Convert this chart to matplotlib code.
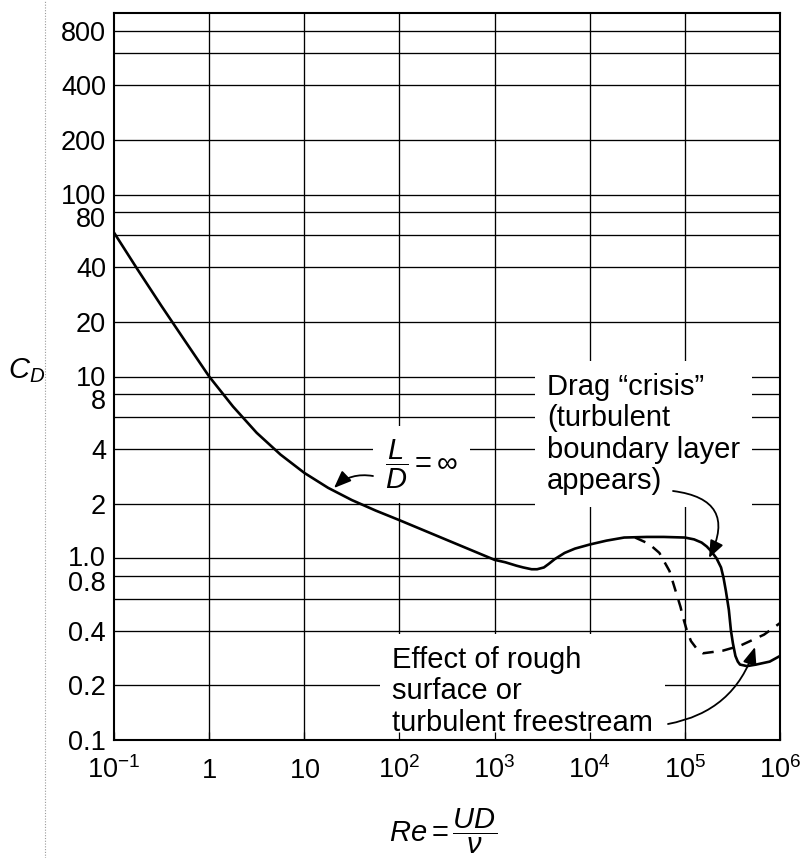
import matplotlib
matplotlib.use("Agg")
import matplotlib.pyplot as plt
from matplotlib.lines import Line2D
from matplotlib.ticker import NullLocator
from matplotlib.transforms import blended_transform_factory, ScaledTranslation

# ---------------- data ----------------
re_solid = [0.1, 0.178, 0.316, 0.562, 1.0, 1.78, 3.16, 5.62, 10, 17.8, 31.6,
            56.2, 100, 316, 1000, 1300, 1700, 2000, 2450, 2800, 3300, 3700,
            4300, 5450, 7000, 1e4, 1.5e4, 2.3e4, 4e4, 6e4, 1e5, 1.25e5, 1.5e5,
            1.7e5, 1.9e5, 2.15e5, 2.4e5, 2.55e5, 2.7e5, 2.9e5, 3.05e5, 3.2e5,
            3.4e5, 3.6e5, 3.8e5, 4.5e5, 5.6e5, 7.8e5, 1e6]
cd_solid = [61.9, 38.6, 24.4, 15.6, 10.0, 6.84, 4.9, 3.72, 2.95, 2.44, 2.09,
            1.83, 1.62, 1.26, 0.98, 0.95, 0.91, 0.89, 0.87, 0.87, 0.89, 0.93,
            0.99, 1.07, 1.13, 1.19, 1.25, 1.3, 1.31, 1.31, 1.3, 1.27, 1.22,
            1.16, 1.09, 1.0, 0.89, 0.78, 0.66, 0.52, 0.4, 0.34,
            0.29, 0.27, 0.26, 0.255, 0.26, 0.27, 0.29]

re_dash = [3e4, 4.2e4, 5.4e4, 6.9e4, 8e4, 9e4, 9.6e4, 1.05e5, 1.16e5, 1.35e5,
           1.55e5, 2.5e5, 3.8e5, 6.8e5, 1e6]
cd_dash = [1.3, 1.2, 1.07, 0.85, 0.66, 0.54, 0.47, 0.40, 0.35, 0.315,
           0.30, 0.31, 0.33, 0.38, 0.44]

x_ticks = [1e-1, 1, 10, 1e2, 1e3, 1e4, 1e5, 1e6]
x_labels = [r"$10^{-1}$", r"$1$", r"$10$", r"$10^{2}$", r"$10^{3}$",
            r"$10^{4}$", r"$10^{5}$", r"$10^{6}$"]
y_ticks = [0.1, 0.2, 0.4, 0.6, 0.8, 1.0, 2, 4, 6, 8, 10, 20, 40, 60, 80,
           100, 200, 400, 600, 800]
y_labels = ["0.1", "0.2", "0.4", "", "0.8", "1.0", "2", "4", "", "8", "10",
            "20", "40", "", "80", "100", "200", "400", "", "800"]

label_ld = r"$\dfrac{L}{D} = \infty$"
label_crisis = "Drag \u201ccrisis\u201d\n(turbulent\nboundary layer\nappears)"
label_rough = "Effect of rough\nsurface or\nturbulent freestream"

# ---------------- style ----------------
plt.rcParams["font.family"] = ["Liberation Sans", "DejaVu Sans"]
plt.rcParams["mathtext.fontset"] = "custom"
plt.rcParams["mathtext.rm"] = "Liberation Sans"
plt.rcParams["mathtext.it"] = "Liberation Sans:italic"
plt.rcParams["mathtext.bf"] = "Liberation Sans:bold"
plt.rcParams["mathtext.sf"] = "Liberation Sans"

W, H = 801, 858
fig = plt.figure(figsize=(W / 100, H / 100), dpi=100)
ax = fig.add_axes([114 / W, 1 - 740 / H, 666 / W, 727 / H])
ax.set_xscale("log")
ax.set_yscale("log")
ax.set_xlim(x_ticks[0], x_ticks[-1])
ax.set_ylim(0.1, 1000)

# grid lines (drawn under the white text boxes)
for xv in x_ticks[1:-1]:
    ax.axvline(xv, color="black", lw=0.95, zorder=1)
for yv in y_ticks[1:]:
    ax.axhline(yv, color="black", lw=0.95, zorder=1)

ax.set_xticks(x_ticks, x_labels)
ax.set_yticks(y_ticks, [""] * len(y_ticks))
ax.xaxis.set_minor_locator(NullLocator())
ax.yaxis.set_minor_locator(NullLocator())
ax.tick_params(axis="x", direction="in", length=6, width=0.9, pad=27, labelsize=19.5)
ax.tick_params(axis="y", length=0)
for lbl in ax.get_xticklabels():
    lbl.set_va("baseline")
ax.xaxis.set_zorder(5)
for sp in ax.spines.values():
    sp.set_linewidth(1.5)
    sp.set_zorder(6)

# y tick labels, nudged apart where they crowd (100/80, 10/8, 1.0/0.8)
ytrans = blended_transform_factory(ax.transAxes, ax.transData)
nudge_px = {100: 1, 80: -5, 10: 1, 8: -5, 1.0: 2, 0.8: -5}
for v, s in zip(y_ticks, y_labels):
    if s:
        off = ScaledTranslation(-8 / 100, nudge_px.get(v, 0) / 100, fig.dpi_scale_trans)
        ax.text(0, v, s, transform=ytrans + off, ha="right", va="center_baseline",
                fontsize=19.5, clip_on=False)

# curves
ax.plot(re_solid, cd_solid, color="black", lw=1.9, zorder=4,
        solid_joinstyle="round", solid_capstyle="round")
ax.plot(re_dash, cd_dash, color="black", lw=1.8, dashes=(4.5, 3.5), zorder=4)

# helper: pixel (from top-left) -> figure pixels
def fp(px, py):
    return (px, H - py)

box = dict(boxstyle="square,pad=0.4", fc="white", ec="none")

ax.annotate(label_ld, xy=fp(385, 438), xycoords="figure pixels",
            ha="left", va="top", fontsize=21, bbox=box, zorder=3)
ax.annotate(label_crisis, xy=fp(547, 373), xycoords="figure pixels",
            ha="left", va="top", fontsize=21, linespacing=1.15, bbox=box, zorder=3)
ax.annotate(label_rough, xy=fp(392, 646), xycoords="figure pixels",
            ha="left", va="top", fontsize=21, linespacing=1.15, bbox=box, zorder=3)

arrow_kw = dict(arrowstyle="-|>,head_length=0.75,head_width=0.3", color="black",
                lw=1.3, shrinkA=0, shrinkB=0, mutation_scale=14)
ax.annotate("", xy=fp(334, 488), xycoords="figure pixels",
            xytext=fp(373, 476), textcoords="figure pixels",
            arrowprops=dict(connectionstyle="arc3,rad=0.25", **arrow_kw), zorder=5)
ax.annotate("", xy=fp(709, 558), xycoords="figure pixels",
            xytext=fp(673, 491), textcoords="figure pixels",
            arrowprops=dict(connectionstyle="arc3,rad=-0.7", **arrow_kw), zorder=5)
ax.annotate("", xy=fp(755, 647), xycoords="figure pixels",
            xytext=fp(668, 724), textcoords="figure pixels",
            arrowprops=dict(connectionstyle="arc3,rad=0.3", **arrow_kw), zorder=5)

# axis titles
fig.text(27 / W, 1 - 371 / H, r"$C_D$", fontsize=21, ha="center", va="center")
fig.text(443 / W, 1 - 831 / H, r"$Re = \dfrac{UD}{\nu}$", fontsize=21,
         ha="center", va="center")

# scan edge dotted line
fig.add_artist(Line2D([45 / W, 45 / W], [0, 1], transform=fig.transFigure,
                      color="#9a9a9a", lw=0.8, ls=(0, (1, 1.5))))

fig.savefig("out.png", dpi=100)
